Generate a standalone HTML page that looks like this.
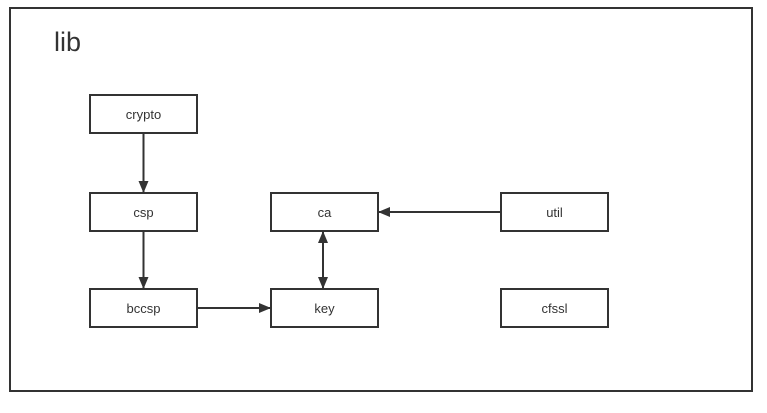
<!DOCTYPE html>
<html><head><style>
body{margin:0;background:#fff;width:767px;height:408px;overflow:hidden}
text{font-family:"Liberation Sans","Noto Sans CJK SC",sans-serif;fill:#333}
</style></head><body>
<svg width="767" height="408" xmlns="http://www.w3.org/2000/svg">
<defs><marker id="a" markerWidth="12" markerHeight="10" refX="11" refY="5" orient="auto" markerUnits="userSpaceOnUse"><path d="M0,0 L12,5 L0,10 Z" fill="#333"/></marker></defs>
<rect x="10" y="8" width="742" height="383" fill="none" stroke="#333" stroke-width="2"/>
<text x="54" y="51" font-size="27">lib</text>
<g fill="#fff" stroke="#333" stroke-width="2">
<rect x="90" y="95" width="107" height="38"/>
<rect x="90" y="193" width="107" height="38"/>
<rect x="90" y="289" width="107" height="38"/>
<rect x="271" y="193" width="107" height="38"/>
<rect x="271" y="289" width="107" height="38"/>
<rect x="501" y="193" width="107" height="38"/>
<rect x="501" y="289" width="107" height="38"/>
</g>
<g font-size="13" text-anchor="middle">
<text x="143.5" y="119">crypto</text>
<text x="143.5" y="217">csp</text>
<text x="143.5" y="313">bccsp</text>
<text x="324.5" y="217">ca</text>
<text x="324.5" y="313">key</text>
<text x="554.5" y="217">util</text>
<text x="554.5" y="313">cfssl</text>
</g>
<g stroke="#333" stroke-width="2" fill="none">
<line x1="143.5" y1="134" x2="143.5" y2="192" marker-end="url(#a)"/>
<line x1="143.5" y1="232" x2="143.5" y2="288" marker-end="url(#a)"/>
<line x1="198" y1="308" x2="270" y2="308" marker-end="url(#a)"/>
<line x1="500" y1="212" x2="379" y2="212" marker-end="url(#a)"/>
<line x1="323" y1="260" x2="323" y2="232" marker-end="url(#a)"/>
<line x1="323" y1="260" x2="323" y2="288" marker-end="url(#a)"/>
</g>
</svg>
</body></html>
